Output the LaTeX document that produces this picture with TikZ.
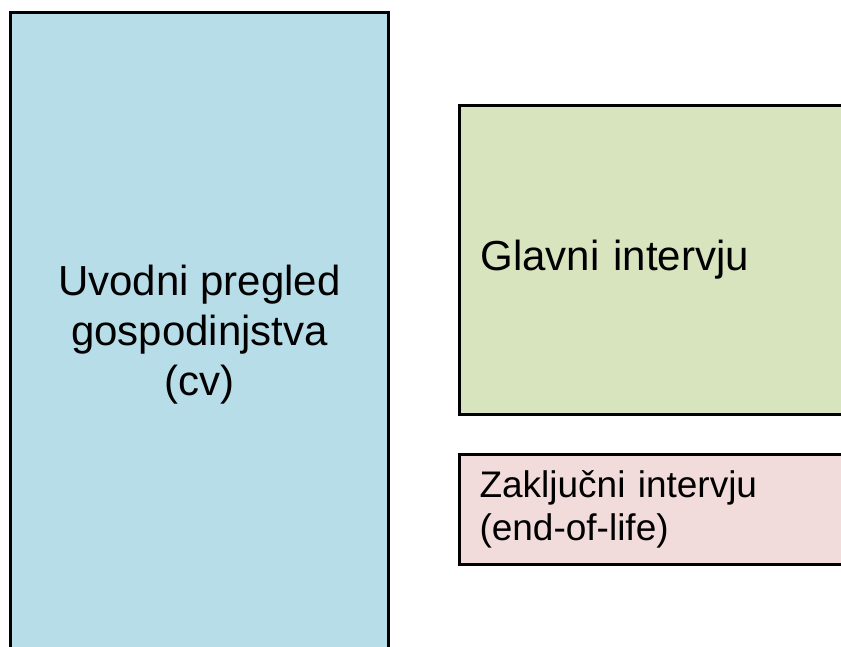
\documentclass[tikz,border=0pt]{standalone}
\usepackage{fontspec}
\setmainfont{Liberation Sans}
\usepackage{tikz}
\definecolor{cvblue}{HTML}{B7DDE8}
\definecolor{glgreen}{HTML}{D7E4BD}
\definecolor{zkpink}{HTML}{F2DCDB}

\begin{document}
\begin{tikzpicture}[x=1pt, y=-1pt,
    box/.style={draw=black, line width=3pt, rectangle, anchor=north west},
    leftbox/.style={box, align=left, text width=360pt, inner xsep=21pt}]
  \useasboundingbox (0,0) rectangle (841,646);
  \clip (0,0) rectangle (841,646);
  \node[box, fill=cvblue, minimum width=378pt, minimum height=644pt, align=center,
    font=\fontsize{42}{50}\selectfont] (cv) at (9,11)
    {Uvodni pregled\\gospodinjstva\\(cv)};
  \node[leftbox, fill=glgreen, minimum height=309pt,
    font=\fontsize{42}{50}\selectfont] (glavni) at (458,104) {Glavni intervju};
  \node[leftbox, fill=zkpink, minimum height=110pt, inner xsep=20pt,
    font=\fontsize{37}{43}\selectfont] (zakljucni) at (458,453)
    {Zaključni intervju\\(end-of-life)};
\end{tikzpicture}
\end{document}
